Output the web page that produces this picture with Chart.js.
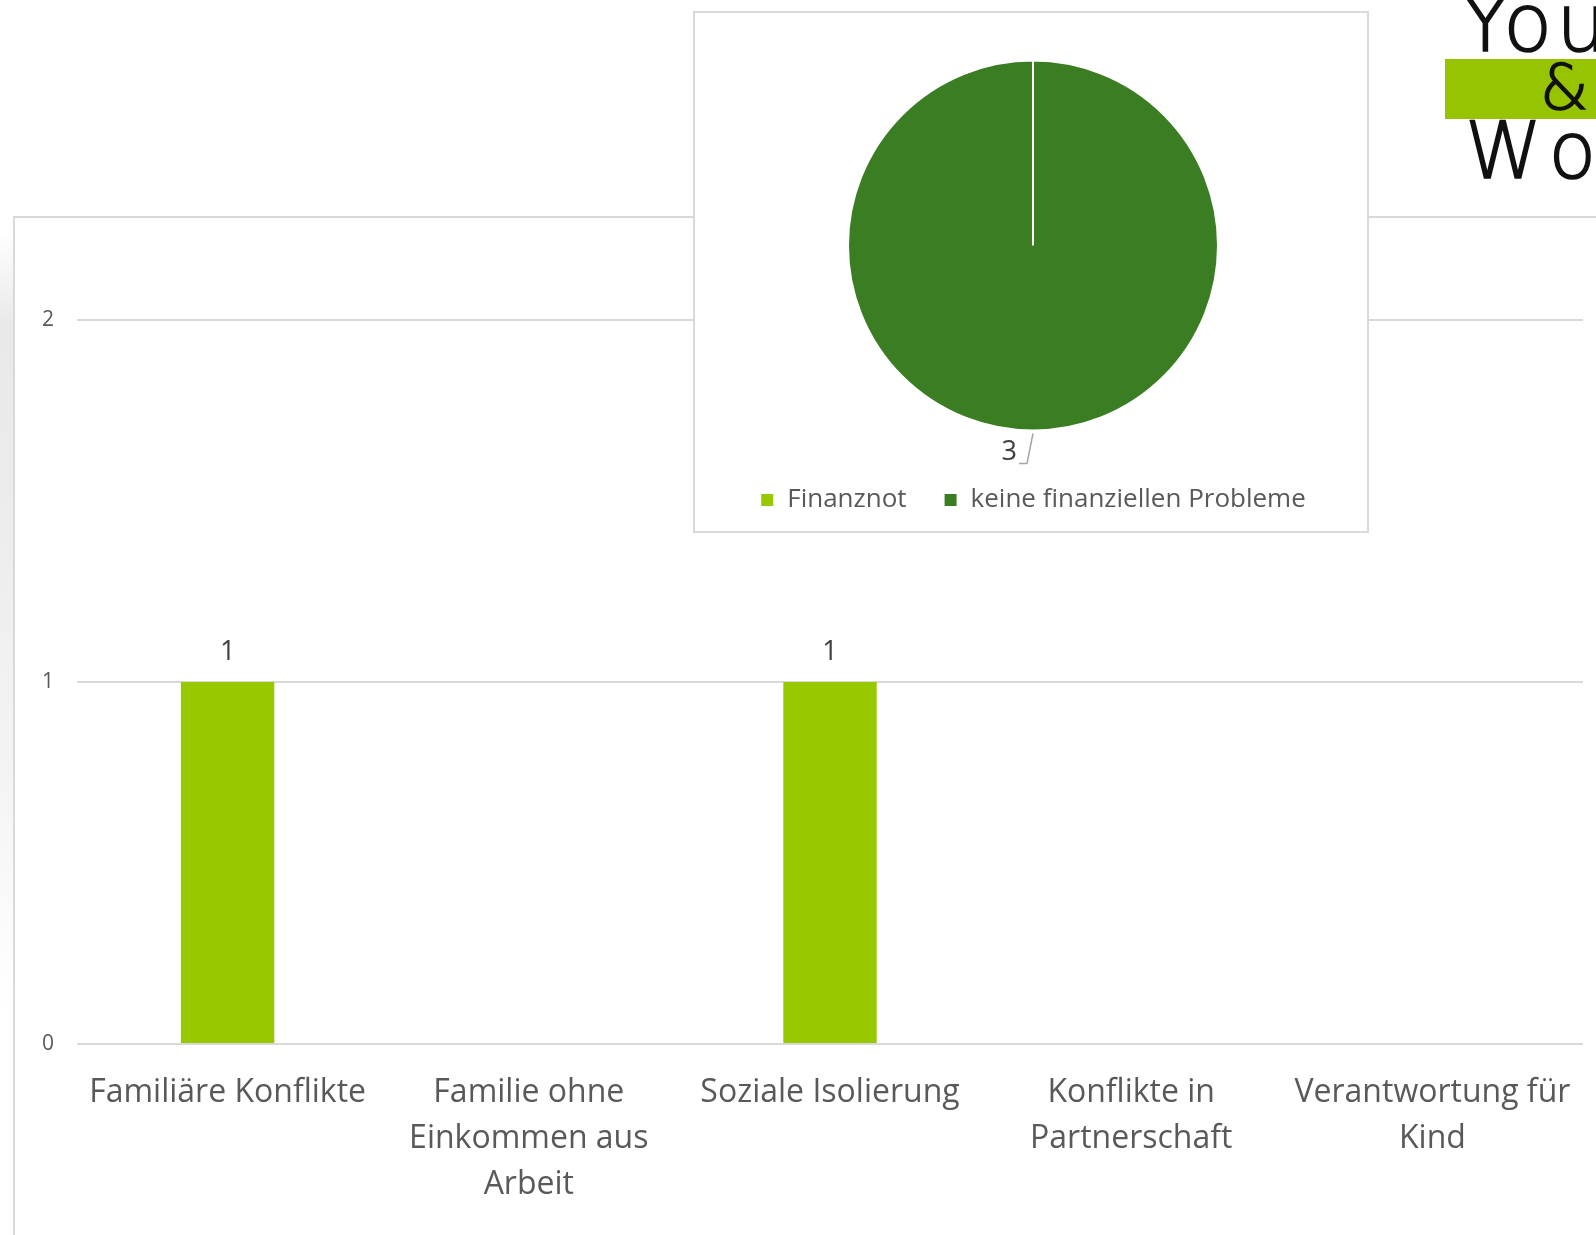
<!DOCTYPE html>
<html>
<head>
<meta charset="utf-8">
<script src="https://cdn.jsdelivr.net/npm/chart.js@4.4.1/dist/chart.umd.min.js"></script>
<style>
  html, body { margin: 0; padding: 0; background: #fff; }
  body { width: 1596px; height: 1235px; position: relative; overflow: hidden; font-family: "Open Sans", sans-serif; }
  #schatten { position: absolute; left: 0; top: 230px; width: 13px; height: 780px;
    background: linear-gradient(to bottom, rgba(235,235,235,0) 0%, #e9e9e9 12%, #ececec 35%, #f4f4f4 70%, rgba(245,245,245,0) 100%); }
  #rahmenBalken { position: absolute; left: 13px; top: 216px; width: 1700px; height: 1100px; border: 2px solid #d9d9d9; box-sizing: border-box; }
  #graficoBalken { position: absolute; left: 0; top: 0; }
  #boxKreis { position: absolute; left: 693px; top: 11px; width: 676px; height: 522px; background: #fff;
    border: 2px solid #d9d9d9; box-sizing: border-box; }
  #graficoKreis { position: absolute; left: 0; top: 0; }
  #logo { position: absolute; left: 1445px; top: 0; width: 151px; height: 185px; background: #fff; overflow: hidden; }
  #logo .band { position: absolute; left: 0; top: 59px; width: 151px; height: 60px; background: #97c400; }
  #logo .t { position: absolute; color: #111; font-family: "DejaVu Sans", sans-serif; font-weight: 300;
    white-space: nowrap; -webkit-text-stroke: 1.6px #111; }
</style>
</head>
<body>
<div id="schatten"></div>
<div id="rahmenBalken"></div>
<canvas id="graficoBalken" width="1596" height="1235"></canvas>
<div id="boxKreis"><canvas id="graficoKreis" width="672" height="518"></canvas></div>
<div id="logo">
  <div class="t" style="left:16px; top:-16px; font-size:80px; line-height:80px; letter-spacing:4px;">You</div>
  <div class="band"></div>
  <div class="t" style="left:95px; top:53px; font-size:62px; line-height:70px;">&amp;</div>
  <div class="t" style="left:20px; top:111px; font-size:78px; line-height:80px; letter-spacing:11px;">Wo</div>
</div>

<script>
// --- Daten Balkendiagramm ---
const kategorien = [
    'Familiäre Konflikte',
    ['Familie ohne', 'Einkommen aus', 'Arbeit'],
    'Soziale Isolierung',
    ['Konflikte in', 'Partnerschaft'],
    ['Verantwortung für', 'Kind']
];
const anzahl = [1, 0, 1, 0, 0];
const yTicks = [0, 1, 2];

// --- Daten Kreisdiagramm ---
const kreisLabels = ['Finanznot', 'keine finanziellen Probleme'];
const kreisWerte = [0, 3];

const hellGruen = '#97c800';
const dunkelGruen = '#3b7d23';
const grau = '#595959';

// Werte über den Balken
const balkenWerte = {
    id: 'balkenWerte',
    afterDatasetsDraw(chart) {
        const { ctx } = chart;
        const meta = chart.getDatasetMeta(0);
        ctx.save();
        ctx.font = '27px "Open Sans"';
        ctx.fillStyle = '#404040';
        ctx.textAlign = 'center';
        ctx.textBaseline = 'middle';
        meta.data.forEach((bar, i) => {
            const v = chart.data.datasets[0].data[i];
            if (!v) return;
            ctx.fillText(String(v), bar.x, bar.y - 30);
        });
        ctx.restore();
    }
};

new Chart(document.getElementById('graficoBalken').getContext('2d'), {
    type: 'bar',
    data: {
        labels: kategorien,
        datasets: [{ data: anzahl, backgroundColor: hellGruen, borderWidth: 0, barPercentage: 0.31, categoryPercentage: 1 }]
    },
    options: {
        responsive: false, animation: false,
        layout: { padding: { left: 20, right: 13, top: 320, bottom: 0 } },
        plugins: { legend: { display: false }, tooltip: { enabled: false } },
        scales: {
            x: {
                grid: { display: false }, border: { display: false },
                ticks: { color: grau, font: { family: 'Open Sans', size: 32, lineHeight: 1.43 }, padding: 18, maxRotation: 0, autoSkip: false },
                afterFit: s => { s.height = 191; }
            },
            y: {
                min: 0, max: 2,
                afterBuildTicks: s => { s.ticks = yTicks.map(v => ({ value: v })); },
                grid: { color: '#d9d9d9', lineWidth: 2, drawTicks: false }, border: { display: false },
                ticks: { color: grau, font: { family: 'Open Sans', size: 21 }, padding: 23 },
                afterFit: s => { s.width = 57; }
            }
        }
    },
    plugins: [balkenWerte]
});

// Datenbeschriftung mit Führungslinie
const kreisWert = {
    id: 'kreisWert',
    afterDatasetsDraw(chart) {
        const { ctx } = chart;
        const meta = chart.getDatasetMeta(0);
        ctx.save();
        meta.data.forEach((arc, i) => {
            const v = chart.data.datasets[0].data[i];
            if (!v) return;
            const a = (arc.startAngle + arc.endAngle) / 2;
            const px = arc.x + Math.cos(a) * (arc.outerRadius + 3);
            const py = arc.y + Math.sin(a) * (arc.outerRadius + 3);
            ctx.strokeStyle = '#a6a6a6';
            ctx.lineWidth = 1.5;
            ctx.beginPath();
            ctx.moveTo(px, py);
            ctx.lineTo(px - 6, py + 30);
            ctx.lineTo(px - 14, py + 30);
            ctx.stroke();
            ctx.font = '27px "Open Sans"';
            ctx.fillStyle = '#404040';
            ctx.textAlign = 'right';
            ctx.textBaseline = 'middle';
            ctx.fillText(String(v), px - 16, py + 19);
        });
        ctx.restore();
    }
};

new Chart(document.getElementById('graficoKreis').getContext('2d'), {
    type: 'pie',
    data: {
        labels: kreisLabels,
        datasets: [{ data: kreisWerte, backgroundColor: [hellGruen, dunkelGruen], borderColor: '#ffffff', borderWidth: 2, radius: 185 }]
    },
    options: {
        responsive: false, animation: false,
        layout: { padding: { top: 28, bottom: 8, left: 4 } },
        plugins: {
            tooltip: { enabled: false },
            legend: {
                position: 'bottom',
                labels: { color: grau, font: { family: 'Open Sans', size: 26 }, boxWidth: 14, boxHeight: 14, padding: 37 }
            }
        }
    },
    plugins: [kreisWert]
});
</script>
</body>
</html>
